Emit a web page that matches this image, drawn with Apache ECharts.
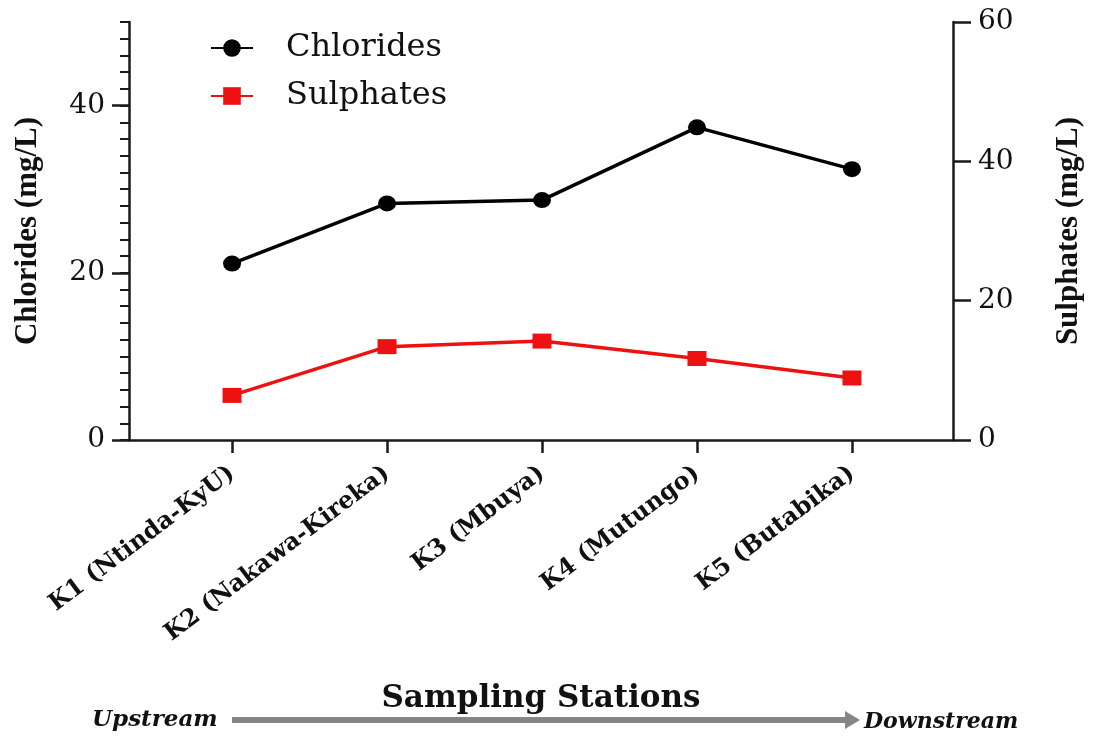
<!DOCTYPE html>
<html>
<head>
<meta charset="utf-8">
<script src="https://cdn.jsdelivr.net/npm/echarts@6/dist/echarts.min.js"></script>
<style>
  html, body { margin: 0; padding: 0; background: #ffffff; }
  #chart { width: 1096px; height: 740px; }
</style>
</head>
<body>
<div id="chart"></div>
<script>
// ---- data ----
const stations = ['K1 (Ntinda-KyU)', 'K2 (Nakawa-Kireka)', 'K3 (Mbuya)', 'K4 (Mutungo)', 'K5 (Butabika)'];
const chlorides = [21.1, 28.3, 28.7, 37.4, 32.4];
const sulphates = [6.4, 13.4, 14.2, 11.7, 8.9];
const leftTicks = [0, 20, 40];
const rightTicks = [0, 20, 40, 60];
const stationIdx = [0, 1, 2, 3, 4];

const AX = '#1a1a1a';
const chart = echarts.init(document.getElementById('chart'));

const option = {
  backgroundColor: '#ffffff',
  animation: false,
  grid: { left: 129, right: 143, top: 22, bottom: 300, containLabel: false },
  legend: {
    orient: 'vertical',
    left: 205,
    top: 27,
    itemWidth: 42,
    itemHeight: 22,
    itemGap: 16,
    textStyle: { fontFamily: 'DejaVu Serif', fontSize: 32, color: '#111', padding: [0, 0, 0, 28] },
    data: ['Chlorides', 'Sulphates']
  },
  xAxis: {
    type: 'value',
    min: -0.665,
    max: 4.652,
    splitLine: { show: false },
    axisLine: { show: true, onZero: false, lineStyle: { color: AX, width: 2.5 } },
    axisTick: { show: true, customValues: stationIdx, length: 13, lineStyle: { color: AX, width: 2.5 } },
    axisLabel: {
      customValues: stationIdx,
      rotate: 37,
      margin: 31,
      fontFamily: 'DejaVu Serif',
      fontWeight: 'bold',
      fontSize: 24,
      color: '#111',
      formatter: v => stations[Math.round(v)]
    },
    name: 'Sampling Stations',
    nameLocation: 'middle',
    nameGap: 243,
    nameTextStyle: { fontFamily: 'DejaVu Serif', fontWeight: 'bold', fontSize: 31, color: '#111', verticalAlign: 'top' }
  },
  yAxis: [
    {
      type: 'value', position: 'left', min: 0, max: 50, interval: 2,
      splitLine: { show: false },
      axisLine: { show: true, onZero: false, lineStyle: { color: AX, width: 2.5 } },
      axisTick: { show: true, length: 9, lineStyle: { color: AX, width: 2 } },
      axisLabel: { show: false }
    },
    {
      type: 'value', position: 'left', min: 0, max: 50,
      splitLine: { show: false },
      axisLine: { show: false, onZero: false },
      axisTick: { show: true, customValues: leftTicks, length: 17, lineStyle: { color: AX, width: 2.5 } },
      axisLabel: { customValues: leftTicks, margin: 24, fontFamily: 'DejaVu Serif', fontSize: 28, color: '#111' },
      name: 'Chlorides (mg/L)',
      nameLocation: 'middle',
      nameRotate: 90,
      nameGap: 86,
      nameTextStyle: { fontFamily: 'Liberation Serif', fontWeight: 'bold', fontSize: 31, color: '#111' }
    },
    {
      type: 'value', position: 'right', min: 0, max: 60, interval: 20,
      splitLine: { show: false },
      axisLine: { show: true, onZero: false, lineStyle: { color: AX, width: 2.5 } },
      axisTick: { show: true, length: 18, lineStyle: { color: AX, width: 2.5 } },
      axisLabel: { margin: 25, fontFamily: 'DejaVu Serif', fontSize: 28, color: '#111' },
      name: 'Sulphates (mg/L)',
      nameLocation: 'middle',
      nameRotate: 90,
      nameGap: 100,
      nameTextStyle: { fontFamily: 'Liberation Serif', fontWeight: 'bold', fontSize: 31, color: '#111' }
    }
  ],
  series: [
    {
      name: 'Chlorides',
      type: 'line',
      yAxisIndex: 0,
      data: stationIdx.map(i => [i, chlorides[i]]),
      symbol: 'circle',
      symbolSize: [18, 16],
      lineStyle: { color: '#000', width: 3.5 },
      itemStyle: { color: '#000' },
      z: 3
    },
    {
      name: 'Sulphates',
      type: 'line',
      yAxisIndex: 2,
      data: stationIdx.map(i => [i, sulphates[i]]),
      symbol: 'rect',
      symbolSize: [19, 15],
      lineStyle: { color: '#ee1111', width: 3.5 },
      itemStyle: { color: '#ee1111' },
      z: 2
    }
  ],
  graphic: [
    {
      type: 'text', left: 92, top: 709,
      style: { text: 'Upstream', fontFamily: 'DejaVu Serif', fontWeight: 'bold', fontStyle: 'italic', fontSize: 23, fill: '#111' }
    },
    {
      type: 'text', left: 864, top: 711,
      style: { text: 'Downstream', fontFamily: 'DejaVu Serif', fontWeight: 'bold', fontStyle: 'italic', fontSize: 22, fill: '#111' }
    },
    {
      type: 'rect', shape: { x: 232, y: 717, width: 615, height: 6 },
      style: { fill: '#858585' }
    },
    {
      type: 'polygon', shape: { points: [[845, 711], [860, 720], [845, 729]] },
      style: { fill: '#858585' }
    }
  ]
};
chart.setOption(option);
</script>
</body>
</html>
